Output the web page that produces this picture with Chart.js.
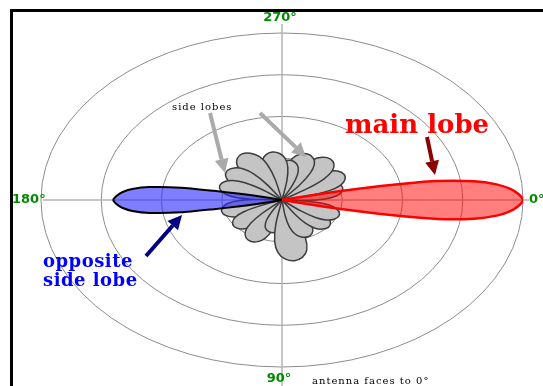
<!DOCTYPE html>
<html>
<head>
<meta charset="utf-8">
<script src="https://cdn.jsdelivr.net/npm/chart.js@4.4.0/dist/chart.umd.min.js"></script>
<style>
  html, body { margin: 0; padding: 0; background: #fff; }
  #wrap { width: 543px; height: 386px; }
</style>
</head>
<body>
<div id="wrap"><canvas id="patternChart" width="543" height="386"></canvas></div>
<script>
// antenna radiation pattern, angles in degrees clockwise from 0° (the way the antenna faces)
const ringLevels = [1, 2, 3, 4];

const mainLobeAngles = [-14, -13, -12, -11, -10, -8, -6, -4, -2, 0, 2, 4, 6, 8, 10, 11, 12, 13, 14];
const mainLobeGains = [0, 0.7, 1.3, 2.05, 2.62, 3.22, 3.58, 3.8, 3.93, 4.0, 3.93, 3.8, 3.58, 3.22, 2.62, 2.05, 1.3, 0.7, 0];

const backLobeAngles = [166, 167, 168, 169, 170, 172, 174, 176, 178, 180, 182, 184, 186, 188, 190, 191, 192, 193, 194];
const backLobeGains = [0, 0.4, 0.75, 1.15, 1.7, 2.22, 2.5, 2.66, 2.75, 2.8, 2.75, 2.66, 2.5, 2.22, 1.7, 1.15, 0.75, 0.4, 0];

const sideLobeAngles = [22, 40, 64, 82, 103, 118, 141, 164, 199, 218, 239, 262, 278, 291, 309, 329, 343];
const sideLobeGains = [1.02, 1.01, 0.98, 1.47, 0.8, 1.12, 1.02, 1.04, 1.09, 1.15, 1.29, 1.16, 0.96, 1.18, 1.27, 1.2, 1.05];

// outline of a single side lobe: offset from its axis and share of its peak gain
const petalOffsets = [-20, -18, -15, -11, -6, 0, 6, 11, 15, 18, 20];
const petalShape = [0, 0.4, 0.68, 0.86, 0.96, 1, 0.96, 0.86, 0.68, 0.4, 0];

function lobePoints(angles, gains) {
    return angles.map((a, i) => {
        const t = a * Math.PI / 180;
        return { x: gains[i] * Math.cos(t), y: gains[i] * Math.sin(t) };
    });
}

const datasets = [];

datasets.push({
    label: 'main lobe',
    data: lobePoints(mainLobeAngles, mainLobeGains),
    backgroundColor: 'rgba(255,0,0,0.5)',
    borderColor: '#ff0000',
    borderWidth: 2.5,
    tension: 0.2
});
datasets.push({
    label: 'opposite side lobe',
    data: lobePoints(backLobeAngles, backLobeGains),
    backgroundColor: 'rgba(40,40,255,0.6)',
    borderColor: '#000000',
    borderWidth: 2,
    tension: 0.2
});
sideLobeAngles.forEach((dir, k) => {
    datasets.push({
        label: 'side lobe ' + (k + 1),
        data: lobePoints(petalOffsets.map(o => dir + o), petalShape.map(s => s * sideLobeGains[k])),
        backgroundColor: '#c4c4c4',
        borderColor: '#3c3c3c',
        borderWidth: 1.5,
        tension: 0.3
    });
});
datasets.forEach(ds => {
    ds.showLine = true;
    ds.fill = 'shape';
    ds.pointRadius = 0;
});

// rings and the two axes go under the lobes
const gridPlugin = {
    id: 'polarGrid',
    beforeDatasetsDraw(chart) {
        const { ctx, scales: { x, y } } = chart;
        const cx = x.getPixelForValue(0), cy = y.getPixelForValue(0);
        ctx.save();
        ctx.strokeStyle = '#8c8c8c';
        ctx.lineWidth = 1;
        ringLevels.forEach(r => {
            ctx.beginPath();
            ctx.ellipse(cx, cy, x.getPixelForValue(r) - cx, y.getPixelForValue(r) - cy, 0, 0, Math.PI * 2);
            ctx.stroke();
        });
        ctx.strokeStyle = '#b4b4b4';
        ctx.lineWidth = 1.5;
        ctx.beginPath();
        ctx.moveTo(43, cy);
        ctx.lineTo(529, cy);
        ctx.moveTo(cx, 24);
        ctx.lineTo(cx, 386);
        ctx.stroke();
        ctx.restore();
    }
};

function arrow(ctx, x1, y1, x2, y2, color) {
    const ang = Math.atan2(y2 - y1, x2 - x1);
    const head = 14, half = 7;
    const bx = x2 - head * Math.cos(ang), by = y2 - head * Math.sin(ang);
    ctx.strokeStyle = color;
    ctx.fillStyle = color;
    ctx.lineWidth = 4;
    ctx.beginPath();
    ctx.moveTo(x1, y1);
    ctx.lineTo(bx, by);
    ctx.stroke();
    ctx.beginPath();
    ctx.moveTo(x2, y2);
    ctx.lineTo(bx + half * Math.sin(ang), by - half * Math.cos(ang));
    ctx.lineTo(bx - half * Math.sin(ang), by + half * Math.cos(ang));
    ctx.closePath();
    ctx.fill();
}

// angle labels, notes, arrows and the frame
const notesPlugin = {
    id: 'notes',
    afterDraw(chart) {
        const { ctx, chartArea, scales: { x, y } } = chart;
        const cx = x.getPixelForValue(0), cy = y.getPixelForValue(0);
        ctx.save();

        ctx.fillStyle = '#008a00';
        ctx.font = 'bold 13px "DejaVu Sans"';
        ctx.textBaseline = 'middle';
        ctx.textAlign = 'center';
        ctx.fillText('270°', cx - 2, chartArea.top - 15);
        ctx.fillText('90°', cx - 3, 379);
        ctx.textAlign = 'left';
        ctx.fillText('180°', 12, cy);
        ctx.fillText('0°', chartArea.right + 6, cy);

        ctx.textBaseline = 'alphabetic';
        ctx.fillStyle = '#000';
        ctx.font = '10px "DejaVu Serif"';
        ctx.letterSpacing = '1px';
        ctx.fillText('side lobes', 172, 110);
        ctx.fillText('antenna faces to 0°', 312, 384);

        ctx.letterSpacing = '0px';
        ctx.fillStyle = '#ff0000';
        ctx.font = 'bold 26px "DejaVu Serif"';
        ctx.fillText('main lobe', 345, 133);

        ctx.fillStyle = '#0000ff';
        ctx.font = 'bold 18px "DejaVu Serif"';
        ctx.letterSpacing = '0.5px';
        ctx.fillText('opposite', 43, 267);
        ctx.fillText('side lobe', 43, 286);
        ctx.letterSpacing = '0px';

        arrow(ctx, 210, 113, 225, 173, '#aaaaaa');
        arrow(ctx, 260, 113, 306, 157, '#aaaaaa');
        arrow(ctx, 427, 137, 435, 175, '#8b0000');
        arrow(ctx, 146, 256, 182, 215, '#000080');

        ctx.fillStyle = '#000';
        ctx.fillRect(10, 9, 533, 3);
        ctx.fillRect(10, 9, 3, 377);
        ctx.restore();
    }
};

const patternChart = new Chart(document.getElementById('patternChart').getContext('2d'), {
    type: 'scatter',
    data: { datasets: datasets },
    options: {
        responsive: false,
        animation: false,
        layout: { padding: { left: 41, right: 20, top: 33, bottom: 19 } },
        scales: {
            x: { type: 'linear', min: -4, max: 4, display: false },
            y: { type: 'linear', min: -4, max: 4, reverse: true, display: false }
        },
        plugins: {
            legend: { display: false },
            tooltip: { enabled: false }
        }
    },
    plugins: [gridPlugin, notesPlugin]
});
</script>
</body>
</html>
